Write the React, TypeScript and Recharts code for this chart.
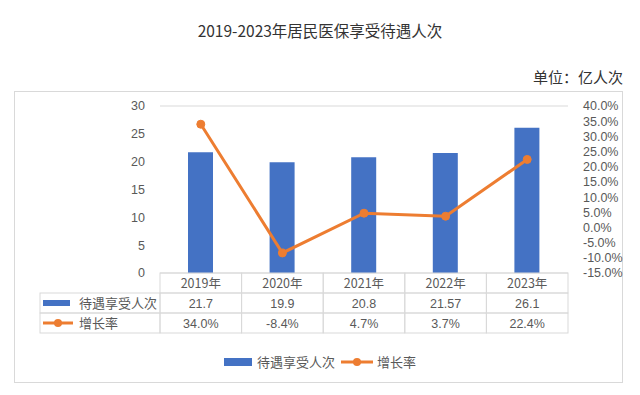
import React from 'react';
import { ComposedChart, Bar, Line, XAxis, YAxis, CartesianGrid, Legend } from 'recharts';

const years = ['2019年', '2020年', '2021年', '2022年', '2023年'];
const visits = [21.7, 19.9, 20.8, 21.57, 26.1];
const growth = [34.0, -8.4, 4.7, 3.7, 22.4];
const visitLabels = ['21.7', '19.9', '20.8', '21.57', '26.1'];
const growthLabels = ['34.0%', '-8.4%', '4.7%', '3.7%', '22.4%'];
const leftTicks = [0, 5, 10, 15, 20, 25, 30];
const rightTicks = [-15, -10, -5, 0, 5, 10, 15, 20, 25, 30, 35, 40];
const barName = '待遇享受人次';
const lineName = '增长率';
const title = '2019-2023年居民医保享受待遇人次';
const unit = '单位：亿人次';

const data = years.map((y, i) => ({ year: y, visits: visits[i], growth: growth[i] }));

const W = 640;
const H = 395;
const PLOT_LEFT = 160;
const PLOT_RIGHT = 568;
const TABLE_LEFT = 40;
const ROW_H = 20;
const BLUE = '#4472C4';
const ORANGE = '#ED7D31';
const GRID = '#d9d9d9';
const TEXT = '#595959';
const CJK = '"Noto Sans CJK SC", "Noto Sans", sans-serif';
const NUM = '"Liberation Sans", "Noto Sans", sans-serif';

const TableTick = (props: any) => {
  const { x, y, index } = props;
  const half = (PLOT_RIGHT - PLOT_LEFT) / years.length / 2;
  const left = x - half;
  return (
    <g>
      {index === 0 && (
        <g>
          <rect x={TABLE_LEFT} y={y + ROW_H} width={left - TABLE_LEFT} height={ROW_H} fill="none" stroke={GRID} />
          <rect x={TABLE_LEFT} y={y + ROW_H * 2} width={left - TABLE_LEFT} height={ROW_H} fill="none" stroke={GRID} />
          <rect x={TABLE_LEFT + 3} y={y + ROW_H * 1.5 - 3} width={27} height={6} fill={BLUE} />
          <text x={TABLE_LEFT + 39} y={y + ROW_H * 1.5} dy={4.5} fontSize={13} fill={TEXT} fontFamily={CJK}>{barName}</text>
          <line x1={TABLE_LEFT + 3} x2={TABLE_LEFT + 33} y1={y + ROW_H * 2.5} y2={y + ROW_H * 2.5} stroke={ORANGE} strokeWidth={3} />
          <circle cx={TABLE_LEFT + 18} cy={y + ROW_H * 2.5} r={4} fill={ORANGE} />
          <text x={TABLE_LEFT + 39} y={y + ROW_H * 2.5} dy={4.5} fontSize={13} fill={TEXT} fontFamily={CJK}>{lineName}</text>
        </g>
      )}
      <rect x={left} y={y} width={half * 2} height={ROW_H} fill="none" stroke={GRID} />
      <rect x={left} y={y + ROW_H} width={half * 2} height={ROW_H} fill="none" stroke={GRID} />
      <rect x={left} y={y + ROW_H * 2} width={half * 2} height={ROW_H} fill="none" stroke={GRID} />
      <text x={x} y={y + ROW_H * 0.5} dy={4.5} textAnchor="middle" fontSize={12.5} fill={TEXT} fontFamily={CJK}>{years[index]}</text>
      <text x={x} y={y + ROW_H * 1.5} dy={4.5} textAnchor="middle" fontSize={12.5} fill={TEXT} fontFamily={NUM}>{visitLabels[index]}</text>
      <text x={x} y={y + ROW_H * 2.5} dy={4.5} textAnchor="middle" fontSize={12.5} fill={TEXT} fontFamily={NUM}>{growthLabels[index]}</text>
    </g>
  );
};

const LegendContent = () => (
  <div style={{ display: 'flex', justifyContent: 'center', alignItems: 'center', fontFamily: CJK, fontSize: 13, color: TEXT }}>
    <span style={{ display: 'inline-block', width: 28, height: 8, background: BLUE, marginRight: 5 }} />
    <span style={{ marginRight: 6 }}>{barName}</span>
    <svg width={32} height={10} style={{ marginRight: 4 }}>
      <line x1={0} x2={32} y1={5} y2={5} stroke={ORANGE} strokeWidth={3} />
      <circle cx={16} cy={5} r={4} fill={ORANGE} />
    </svg>
    <span>{lineName}</span>
  </div>
);

export default function App() {
  return (
    <div style={{ position: 'absolute', left: 0, top: 0, width: W, height: H, background: '#fff', overflow: 'hidden' }}>
      <div style={{ position: 'absolute', top: 19, left: 0, width: W, textAlign: 'center', fontFamily: CJK, fontSize: 15.5, color: '#333' }}>{title}</div>
      <div style={{ position: 'absolute', top: 66, right: 17, fontFamily: CJK, fontSize: 15, color: '#333' }}>{unit}</div>
      <div style={{ position: 'absolute', left: 14, top: 91, width: 609, height: 292, border: `1px solid ${GRID}`, boxSizing: 'border-box' }} />
      <div style={{ position: 'absolute', left: 0, top: 0 }}>
        <ComposedChart width={W} height={H} data={data} margin={{ top: 106, right: 12, bottom: 62, left: 100 }}>
          <CartesianGrid vertical={false} stroke={GRID} />
          <XAxis dataKey="year" xAxisId="x" height={60} tickSize={0} tickMargin={0} axisLine={false} tick={<TableTick />} interval={0} />
          <YAxis yAxisId="left" width={60} domain={[0, 30]} ticks={leftTicks} interval={0} axisLine={false} tickLine={false} tickMargin={9} tick={{ fontSize: 12.5, fill: TEXT, fontFamily: NUM }} />
          <YAxis yAxisId="right" orientation="right" width={60} domain={[-15, 40]} ticks={rightTicks} interval={0} axisLine={false} tickLine={false} tickMargin={9} tickFormatter={(v: number) => `${v.toFixed(1)}%`} tick={{ fontSize: 12.5, fill: TEXT, fontFamily: NUM, textAnchor: 'start' }} />
          <Bar xAxisId="x" yAxisId="left" dataKey="visits" name={barName} fill={BLUE} barSize={25} isAnimationActive={false} />
          <Line xAxisId="x" yAxisId="right" dataKey="growth" name={lineName} stroke={ORANGE} strokeWidth={3} dot={{ r: 4, fill: ORANGE, stroke: ORANGE, strokeWidth: 1 }} isAnimationActive={false} />
          <Legend verticalAlign="middle" layout="horizontal" content={<LegendContent />} wrapperStyle={{ top: 352, left: 0, width: W }} />
        </ComposedChart>
      </div>
    </div>
  );
}
